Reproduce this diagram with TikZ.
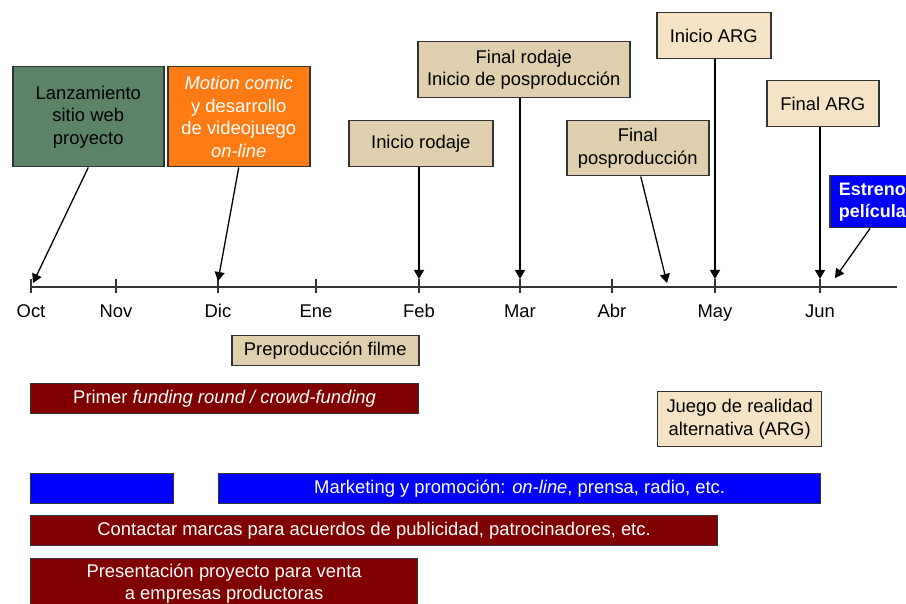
\documentclass[tikz,border=0pt]{standalone}
\usepackage{fontspec}
\setmainfont{Liberation Sans}
\usetikzlibrary{arrows.meta,calc}

\definecolor{edge}{HTML}{333333}
\definecolor{webgreen}{HTML}{5B8466}
\definecolor{comicorange}{HTML}{FF7C14}
\definecolor{tan}{HTML}{E0CFAD}
\definecolor{lighttan}{HTML}{F5E3C5}
\definecolor{darkred}{HTML}{800000}
\definecolor{pureblue}{HTML}{0000FF}

\tikzset{
  txt/.style={font=\fontsize{18.4}{22.5}\selectfont},
  box/.style={txt, draw=edge, line width=1.5pt, align=center, inner sep=0pt, anchor=north west},
  bar/.style={txt, draw=edge, line width=1.2pt, inner sep=0pt, anchor=north west, text=white, align=center},
  link/.style={draw=black, line width=1.3pt, -{Triangle[length=9pt,width=10pt]}},
  axisline/.style={draw=edge, line width=1.5pt},
}

\begin{document}
\begin{tikzpicture}[x=1pt,y=-1pt]
\useasboundingbox (0,0) rectangle (906,604);
\clip (0,0) rectangle (906,604);

% timeline axis with month ticks
\draw[axisline] (31,287) -- (897,287);
\foreach \x/\m in {31/Oct,116/Nov,218/Dic,316/Ene,419/Feb,520/Mar,612/Abr,715/May,820/Jun}{
  \draw[axisline] (\x,279) -- (\x,293);
  \node[txt, anchor=base] (m\m) at (\x,317.5) {\m};
}

% arrow end points on the axis
\coordinate (tWeb)  at (33,283);
\coordinate (tComic) at (218,281);
\coordinate (tFeb)  at (419,279);
\coordinate (tMar)  at (520,279);
\coordinate (tPos)  at (667,283);
\coordinate (tMay)  at (715,279);
\coordinate (tJun)  at (820,279);
\coordinate (tEst)  at (835,278);

% milestones
\node[box, fill=webgreen, minimum width=151pt, minimum height=100pt] (web) at (12,66)
  {Lanzamiento\\sitio web\\proyecto};
\node[box, fill=comicorange, text=white, minimum width=142pt, minimum height=100pt] (comic) at (167,66)
  {\itshape Motion comic\\y desarrollo\\de videojuego\\\itshape on-line};
\node[box, fill=tan, minimum width=144pt, minimum height=46pt] (rod1) at (348,120)
  {Inicio rodaje};
\node[box, fill=tan, minimum width=212pt, minimum height=56pt] (rod2) at (417,41)
  {Final rodaje\\Inicio de posproducción};
\node[box, fill=tan, minimum width=142pt, minimum height=55pt] (pos) at (566,120)
  {Final\\posproducción};
\node[box, fill=lighttan, minimum width=114pt, minimum height=46pt] (arg1) at (656,12)
  {Inicio ARG};
\node[box, fill=lighttan, minimum width=112pt, minimum height=46pt] (arg2) at (766,80)
  {Final ARG};
\node[box, fill=pureblue, text=white, font=\fontsize{18}{22}\selectfont\bfseries,
      minimum height=52pt, align=left, inner xsep=9pt] (est) at (829,175)
  {Estreno\\película};

% connectors from milestones to the axis
\draw[link] (web.south) -- (tWeb);
\draw[link] (comic.south) -- (tComic);
\draw[link] (rod1.south -| tFeb) -- (tFeb);
\draw[link] (rod2.south -| tMar) -- (tMar);
\draw[link] ($(pos.south)+(3,0)$) -- (tPos);
\draw[link] (arg1.south -| tMay) -- (tMay);
\draw[link] (arg2.south -| tJun) -- (tJun);
\draw[link] ($(est.south west)+(41,0)$) -- (tEst);

% activity bars
\node[box, fill=tan, minimum width=187pt, minimum height=30pt] (pre) at (231,335)
  {Preproducción filme};
\node[bar, fill=darkred, minimum width=388pt, minimum height=30pt] (fund) at (30,383)
  {Primer \textit{funding round / crowd-funding}};
\node[box, fill=lighttan, line width=1.3pt, minimum width=164pt, minimum height=55pt] (game) at (657,391)
  {Juego de realidad\\alternativa (ARG)};
\node[bar, fill=pureblue, minimum width=143pt, minimum height=30pt] (mkt1) at (30,473) {};
\node[bar, fill=pureblue, minimum width=602pt, minimum height=30pt] (mkt2) at (218,473)
  {Marketing y promoción: \textit{on-line}, prensa, radio, etc.};
\node[bar, fill=darkred, minimum width=687pt, minimum height=30pt] (brand) at (30,515)
  {Contactar marcas para acuerdos de publicidad, patrocinadores, etc.};
\node[bar, fill=darkred, minimum width=387pt, minimum height=50pt] (sale) at (30,558)
  {Presentación proyecto para venta\\a empresas productoras};
\end{tikzpicture}
\end{document}
